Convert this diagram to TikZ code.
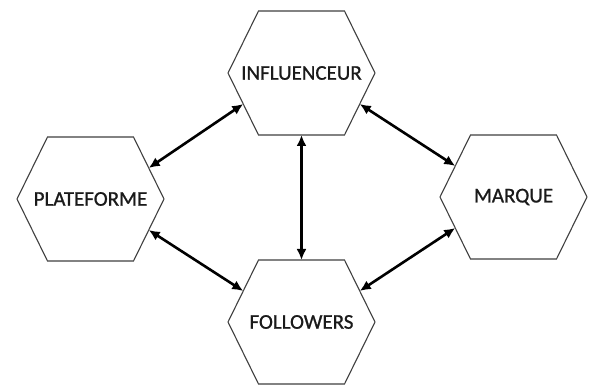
\documentclass[tikz,border=0pt]{standalone}
\usepackage{fontspec}
\setmainfont{Carlito}
\newfontfamily\lblfont[FakeBold=0.9]{Carlito}
\usetikzlibrary{arrows.meta,calc}
\definecolor{hexgray}{HTML}{404040}
\definecolor{txt}{HTML}{1A1A1A}
\tikzset{
  hexnode/.style={rectangle, inner sep=0pt, outer sep=0pt, minimum width=147pt, minimum height=124pt,
    font=\lblfont\fontsize{21}{24}\selectfont, text=txt},
  hexline/.style={draw=hexgray, line width=1.1pt, line join=miter},
  link/.style={line width=2.6pt, {Latex[length=11pt,width=10pt]}-{Latex[length=11pt,width=10pt]}}
}
\newcommand{\hexdraw}[1]{%
  \draw[hexline] (#1.west) -- ([xshift=30.5pt]#1.north west) -- ([xshift=-30.5pt]#1.north east)
    -- (#1.east) -- ([xshift=-30.5pt]#1.south east) -- ([xshift=30.5pt]#1.south west) -- cycle;
  \coordinate (#1-ur) at ([shift={(58.25pt,31pt)}]#1.center);
  \coordinate (#1-lr) at ([shift={(58.25pt,-31pt)}]#1.center);
  \coordinate (#1-ul) at ([shift={(-58.25pt,31pt)}]#1.center);
  \coordinate (#1-ll) at ([shift={(-58.25pt,-31pt)}]#1.center);
}
\begin{document}
\begin{tikzpicture}[x=1pt,y=-1pt]
\useasboundingbox[fill=white] (0,0) rectangle (595,385);
\node[hexnode] (inf) at (301.5,73) {INFLUENCEUR};
\node[hexnode] (plat) at (90.5,199) {PLATEFORME};
\node[hexnode] (marq) at (513.5,197) {MARQUE};
\node[hexnode] (foll) at (301.5,322) {FOLLOWERS};
\hexdraw{inf}
\hexdraw{plat}
\hexdraw{marq}
\hexdraw{foll}
\draw[link] (inf-ll) -- (plat-ur);
\draw[link] (inf-lr) -- (marq-ul);
\draw[link] (inf.south) -- (foll.north);
\draw[link] (plat-lr) -- (foll-ul);
\draw[link] (marq-ll) -- (foll-ur);
\end{tikzpicture}
\end{document}
